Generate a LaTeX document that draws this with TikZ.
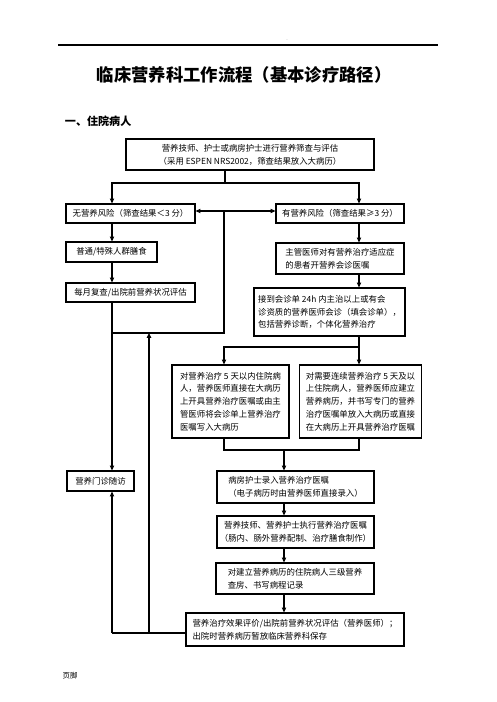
\documentclass[tikz,border=0pt]{standalone}
\usepackage{fontspec}
\setmainfont{Noto Sans CJK SC}
\usetikzlibrary{arrows.meta}
\tikzset{
  caja/.style={draw, line width=0.9pt, inner sep=0pt, align=left,
               font=\fontsize{6.3}{9.6}\selectfont},
  flecha/.style={-{Triangle[length=3.6pt,width=3.2pt]}},
}
\begin{document}
\begin{tikzpicture}[x=0.75pt, y=-0.75pt, line width=0.8pt]
  \useasboundingbox (0,0) rectangle (496,702);
  % cabecera y titulo
  \draw (58,45) -- (438,45);
  \node[font=\fontsize{4}{4}\selectfont, gray] (punto) at (287,40) {.};
  \node[font=\bfseries\fontsize{13}{15}\selectfont] (titulo) at (244,75) {临床营养科工作流程（基本诊疗路径）};
  \node[anchor=west, font=\bfseries\fontsize{8.3}{10}\selectfont] (seccion) at (60,121) {一、住院病人};
  % las cajas
  \node[caja, align=center, minimum width=186pt, minimum height=23.25pt] (cribado) at (250,154.5)
    {营养技师、护士或病房护士进行营养筛查与评估\\（采用 ESPEN NRS2002，筛查结果放入大病历）};
  \node[caja, minimum width=96.75pt, minimum height=14.25pt] (norisk) at (130.5,213.5) {无营养风险（筛查结果＜3 分）};
  \node[caja, minimum width=96pt, minimum height=14.25pt] (risk) at (340,213.5) {有营养风险（筛查结果≥3 分）};
  \node[caja, minimum width=68.25pt, minimum height=15pt] (dieta) at (111.5,252) {普通/特殊人群膳食};
  \node[caja, minimum width=96.75pt, minimum height=14.25pt] (mensual) at (130.5,292.5) {每月复查/出院前营养状况评估};
  \node[caja, minimum width=96pt, minimum height=23.25pt] (medico) at (340,258.5)
    {主管医师对有营养治疗适应症\\的患者开营养会诊医嘱};
  \node[caja, minimum width=113.25pt, minimum height=36pt] (interconsulta) at (329.5,312)
    {接到会诊单 24h 内主治以上或有会\\诊资质的营养医师会诊（填会诊单），\\包括营养诊断，个体化营养治疗};
  \node[caja, minimum width=87.75pt, minimum height=54.75pt] (corto) at (230.5,401.5)
    {对营养治疗 5 天以内住院病\\人，营养医师直接在大病历\\上开具营养治疗医嘱或由主\\管医师将会诊单上营养治疗\\医嘱写入大病历};
  \node[caja, minimum width=92pt, minimum height=54.75pt] (largo) at (360.5,401.5)
    {对需要连续营养治疗 5 天及以\\上住院病人，营养医师应建立\\营养病历，并书写专门的营养\\治疗医嘱单放入大病历或直接\\在大病历上开具营养治疗医嘱};
  \node[caja, minimum width=50.25pt, minimum height=15pt] (seguimiento) at (100.5,481) {营养门诊随访};
  \node[caja, minimum width=117.75pt, minimum height=24pt] (enfermera) at (295.5,487)
    {病房护士录入营养治疗医嘱\\（电子病历时由营养医师直接录入）};
  \node[caja, align=center, minimum width=117.75pt, minimum height=24pt] (ejecucion) at (295.5,532)
    {营养技师、营养护士执行营养治疗医嘱\\（肠内、肠外营养配制、治疗膳食制作）};
  \node[caja, minimum width=118.5pt, minimum height=23.25pt] (rondas) at (295,578.5)
    {对建立营养病历的住院病人三级营养\\查房、书写病程记录};
  \node[caja, minimum width=163.5pt, minimum height=24.75pt] (final) at (295,629.5)
    {营养治疗效果评价/出院前营养状况评估（营养医师）；\\出院时营养病历暂放临床营养科保存};
  \node[font=\fontsize{5.6}{7}\selectfont] (pie) at (70,676) {页脚};
  % reparto tras el cribado
  \coordinate (reparto) at (225,183);
  \coordinate (repL) at (112,183);
  \coordinate (repR) at (359,183);
  \draw (reparto |- cribado.south) -- (reparto);
  \draw[flecha] (reparto) -- (repL) -- (repL |- norisk.north);
  \draw[flecha] (reparto) -- (repR) -- (repR |- risk.north);
  % columna izquierda y la vuelta
  \draw[flecha] (repL |- norisk.south) -- (repL |- dieta.north);
  \draw[flecha] (repL |- dieta.south) -- (repL |- mensual.north);
  \draw[flecha] (repL |- mensual.south) -- (repL |- seguimiento.north);
  \coordinate (vuelta) at (112,333);
  \coordinate (vueltaR) at (224,333);
  \coordinate (vueltaT) at (224,211);
  \draw (vuelta) -- (vueltaR) -- (vueltaT);
  \draw[flecha] (vueltaT) -- (vueltaT -| norisk.east);
  \draw[flecha] (vueltaT) -- (vueltaT -| risk.west);
  % columna derecha
  \draw[flecha] (repR |- risk.south) -- (repR |- medico.north);
  \draw[flecha] (repR |- medico.south) -- (repR |- interconsulta.north);
  \draw[flecha] (repR |- interconsulta.south) -- (repR |- largo.north);
  \coordinate (rama) at (359,347);
  \coordinate (ramaL) at (224,347);
  \draw[flecha] (rama) -- (ramaL) -- (ramaL |- corto.north);
  % se juntan las dos ramas
  \coordinate (juntaL) at (224,450);
  \coordinate (juntaR) at (359,450);
  \coordinate (juntaM) at (284,450);
  \draw (juntaL |- corto.south) -- (juntaL) -- (juntaR) -- (juntaR |- largo.south);
  \draw[flecha] (juntaM) -- (juntaM |- enfermera.north);
  \draw[flecha] (juntaM |- enfermera.south) -- (juntaM |- ejecucion.north);
  \draw[flecha] (juntaM |- ejecucion.south) -- (juntaM |- rondas.north);
  \draw[flecha] (juntaM |- rondas.south) -- (juntaM |- final.north);
  % salida: al seguimiento y de vuelta al cribado
  \coordinate (salida) at (112,633);
  \coordinate (subida) at (149,633);
  \draw (final.west |- salida) -- (salida);
  \draw[flecha] (salida) -- (salida |- seguimiento.south);
  \draw[flecha] (subida) -- (subida |- vuelta);
\end{tikzpicture}
\end{document}
